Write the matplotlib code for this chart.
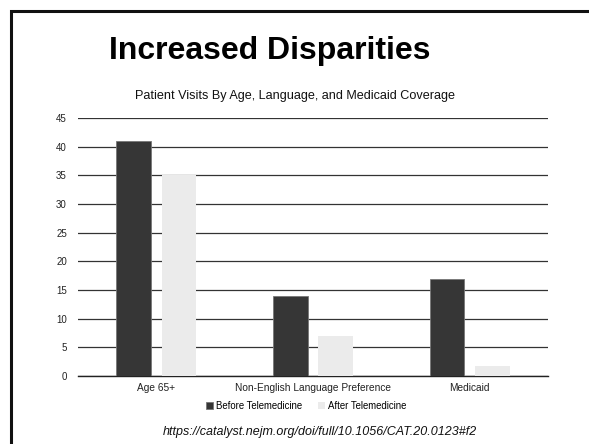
import matplotlib.pyplot as plt
import matplotlib.patches as mpatches
import numpy as np

plt.rcParams['font.family'] = ['Liberation Sans', 'DejaVu Sans']

categories = ["Age 65+", "Non-English Language Preference", "Medicaid"]
before_vals = [41, 14, 17]
after_vals = [35, 7, 1.8]
series_names = ["Before Telemedicine", "After Telemedicine"]
y_ticks = [0, 5, 10, 15, 20, 25, 30, 35, 40, 45]

W, H = 589, 444
fig = plt.figure(figsize=(W / 100, H / 100), dpi=100)
fig.patch.set_facecolor("white")

# slide border (clipped on right and bottom like the screenshot)
border = mpatches.Rectangle((11 / W, -0.2), 1.2, (H - 11.5) / H + 0.2,
                            transform=fig.transFigure, fill=False,
                            edgecolor="#111111", linewidth=2.2, clip_on=False)
fig.add_artist(border)

fig.text(270 / W, 1 - 58.5 / H, "Increased Disparities", ha="center", va="baseline",
         fontsize=23, fontweight="bold", color="black")

fig.text(295 / W, 1 - 96 / H, "Patient Visits By Age, Language, and Medicaid Coverage",
         ha="center", va="center", fontsize=9.1, color="#111111")

ax = fig.add_axes([78 / W, 1 - 376 / H, (548 - 78) / W, (376 - 118) / H])

x = np.arange(len(categories))
w = 0.22
off = 0.145
b1 = ax.bar(x - off, before_vals, w, color="#363636", edgecolor="#777777", linewidth=0.6,
            label=series_names[0], zorder=3)
b2 = ax.bar(x + off, after_vals, w, color="#ebebeb", label=series_names[1], zorder=3)

ax.set_xlim(-0.5, 2.5)
ax.set_ylim(0, 45)
ax.set_yticks(y_ticks)
ax.set_xticks(x)
ax.set_xticklabels(categories)
ax.tick_params(axis="both", length=0, colors="#222222")
ax.tick_params(axis="y", pad=8, labelsize=7)
ax.tick_params(axis="x", pad=5, labelsize=7.3)
ax.grid(axis="y", color="#333333", linewidth=0.9, zorder=0)
for s in ["top", "right", "left"]:
    ax.spines[s].set_visible(False)
ax.spines["bottom"].set_color("#222222")
ax.spines["bottom"].set_linewidth(1.0)
ax.set_axisbelow(True)

fig.legend(handles=[b1, b2], labels=series_names, loc="center",
           bbox_to_anchor=(306 / W, 1 - 406 / H), ncol=2, frameon=False,
           fontsize=6.9, handlelength=0.75, handleheight=0.75, handletextpad=0.3,
           columnspacing=1.6)

fig.text(320 / W, 1 - 435 / H, "https://catalyst.nejm.org/doi/full/10.1056/CAT.20.0123#f2",
         ha="center", va="baseline", fontsize=9, style="italic", color="#111111")

fig.savefig("out.png", dpi=100)
